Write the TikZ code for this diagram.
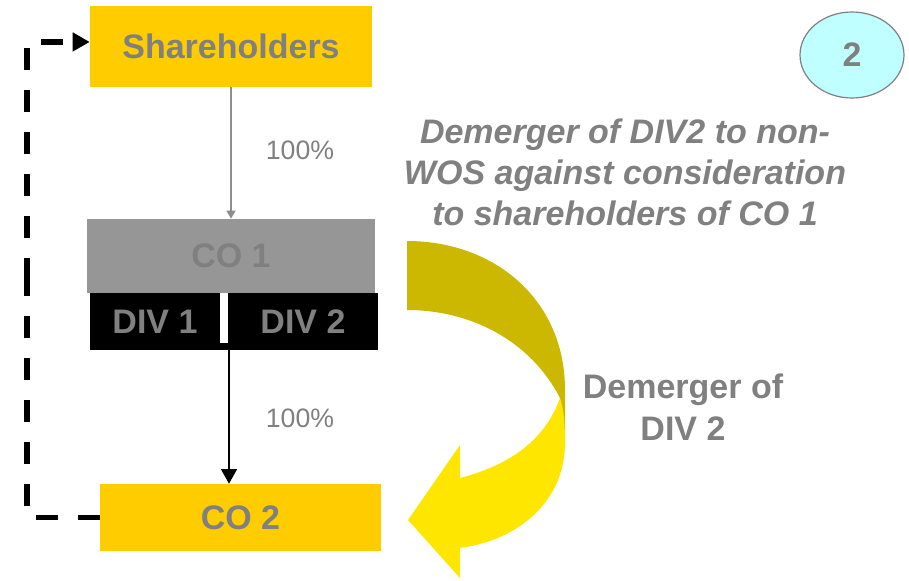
\documentclass[tikz,border=0pt]{standalone}
\usepackage{fontspec}
\setmainfont{Liberation Sans}
\usetikzlibrary{arrows.meta,shapes.geometric}
\definecolor{boxyellow}{HTML}{FFCC00}
\definecolor{txtgray}{HTML}{808080}
\definecolor{coigray}{HTML}{969696}
\definecolor{ribbonolive}{HTML}{CCB800}
\definecolor{ribbonyellow}{HTML}{FFE600}
\definecolor{circlecyan}{HTML}{C0FFFF}
\begin{document}
\begin{tikzpicture}[x=0.75pt,y=-0.75pt,
  bigtxt/.style={font=\fontsize{25.5}{30.6}\selectfont\bfseries, text=txtgray},
  ybox/.style={bigtxt, fill=boxyellow, inner sep=0pt, minimum height=#1},
  divbox/.style={bigtxt, fill=black, inner sep=0pt, minimum height=42.75pt},
  pct/.style={font=\fontsize{20}{24}\selectfont, text=txtgray},
  dashconn/.style={line width=4.2pt, dash pattern=on 16.5pt off 15pt},
  grayarrow/.style={draw=txtgray!90, line width=1.5pt, -{Triangle[length=6pt,width=6.5pt]}},
  blackarrow/.style={draw=black, line width=1.1pt, -{Triangle[length=11pt,width=12pt]}}]
\useasboundingbox (0,0) rectangle (909,581);

% boxes
\node[ybox=60.75pt, minimum width=211.5pt] (sh) at (231,46.5) {Shareholders};
\node[bigtxt, fill=coigray, inner sep=0pt, minimum width=216pt, minimum height=55.5pt] (co1) at (231,256) {CO 1};
\node[divbox, minimum width=97.5pt] (div1) at (155,321.5) {DIV 1};
\node[divbox, minimum width=112.5pt] (div2) at (303,321.5) {DIV 2};
\fill (90,343) rectangle (378,350);
\coordinate (divbot) at (229,350);
\node[ybox=50.25pt, minimum width=210.75pt] (co2) at (240.5,517.5) {CO 2};

% circle
\node[ellipse, draw=txtgray, line width=0.9pt, fill=circlecyan, minimum width=78pt, minimum height=64.5pt, inner sep=0pt, bigtxt] (num) at (852,55) {2};

% connectors
\draw[grayarrow] (sh.south) -- (co1.north);
\draw[blackarrow] (divbot) -- (divbot |- co2.north);
\node[pct] (p1) at (300,150) {100\%};
\node[pct] (p2) at (300,418) {100\%};

\coordinate (lft) at (27,280);
\draw[dashconn] (co2.west) -| (lft);
\draw[dashconn, -{Triangle[length=12.75pt,width=13.5pt]}] (lft) |- ([yshift=3.4pt]sh.west);

% texts
\node[font=\fontsize{25.5}{30.75}\selectfont\bfseries\itshape, text=txtgray, align=center] (t1) at (625,172)
  {Demerger of DIV2 to non-\\WOS against consideration\\to shareholders of CO 1};
\node[bigtxt, align=center, font=\fontsize{25.5}{31.5}\selectfont\bfseries] (t2) at (683,407) {Demerger of\\DIV 2};

% ribbon arrow
\fill[ribbonolive] (407,241) .. controls (495,241) and (565,300) .. (565,390) -- (565,440) -- (560,398)
  .. controls (530,340) and (470,310) .. (407,310) -- cycle;
\fill[ribbonyellow] (560,398) .. controls (564,410) and (565,425) .. (565,443)
  .. controls (565,500) and (520,540) .. (460,548) -- (460,578) -- (408,520) -- (460,445) -- (460,478)
  .. controls (510,465) and (545,440) .. (560,398) -- cycle;
\end{tikzpicture}
\end{document}
